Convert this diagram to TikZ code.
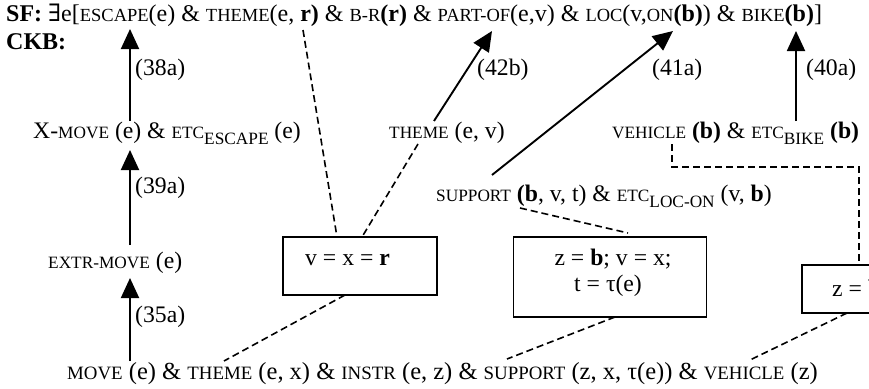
\documentclass[tikz,border=0pt]{standalone}
\usepackage{fontspec}
\setmainfont{Liberation Serif}
\newfontfamily\djv{DejaVu Serif}
\usepackage{relsize}
\usetikzlibrary{arrows.meta}
\newcommand\smc[1]{\textscale{.77}{#1}}
\newcommand\sbs[1]{\raisebox{-6pt}{\textscale{.75}{#1}}}
\begin{document}
\begin{tikzpicture}[x=1pt,y=-1pt,
  txt/.style={anchor=base west, inner sep=0pt, font=\fontsize{23.7}{28}\selectfont},
  bigtxt/.style={anchor=base west, inner sep=0pt, font=\fontsize{24.5}{28}\selectfont},
  sftxt/.style={anchor=base west, inner sep=0pt, font=\fontsize{24}{28}\selectfont},
  lbl/.style={anchor=west, inner sep=0pt, font=\fontsize{23.7}{28}\selectfont},
  inf/.style={line width=1.9pt, -{Triangle[length=20pt,width=18pt]}},
  eq/.style={line width=1.6pt, dash pattern=on 7pt off 4pt},
  frame/.style={draw, line width=1.8pt, inner sep=0pt}]
\useasboundingbox (0,0) rectangle (869,388);
\clip (0,0) rectangle (869,388);
% texts
\node[sftxt] (sf) at (6,21) {\textbf{SF:} {\djv ∃}e[\smc{ESCAPE}(e) \& \smc{THEME}(e, \textbf{r)} \& \smc{B-R}\textbf{(r)} \& \smc{PART-OF}(e,v) \& \smc{LOC}(v,\smc{ON}\textbf{(b)}) \& \smc{BIKE}\textbf{(b)}]};
\node[sftxt] (ckb) at (6,49) {\textbf{CKB:}};
\node[txt] (xmove) at (33,138) {X-\smc{MOVE} (e) \& \smc{ETC}\sbs{ESCAPE} (e)};
\node[txt] (themev) at (389,138) {\smc{THEME} (e, v)};
\node[txt] (vehb) at (612,138) {\smc{VEHICLE} \textbf{(b)} \& \smc{ETC}\sbs{BIKE} \textbf{(b)}};
\node[txt] (supp) at (436,201) {\smc{SUPPORT} \textbf{(b}, v, t) \& \smc{ETC}\sbs{LOC-ON} (v, \textbf{b})};
\node[txt] (extr) at (48,268) {\smc{EXTR-MOVE} (e)};
\node[bigtxt] (move) at (67,379) {\smc{MOVE} (e) \& \smc{THEME} (e, x) \& \smc{INSTR} (e, z) \& \smc{SUPPORT} (z, x, τ(e)) \& \smc{VEHICLE} (z)};
% boxes
\node[frame, minimum width=154pt, minimum height=58pt] (b1) at (360,266) {};
\node[txt] (b1t) at (305,265) {v = x = \textbf{r}};
\node[frame, minimum width=193pt, minimum height=80pt] (b2) at (610,277) {};
\node[txt, anchor=base] (b2t) at (613,265) {z = \textbf{b}; v = x;};
\node[txt, anchor=base] (b2u) at (608,291) {t = τ(e)};
\node[frame, minimum width=120pt, minimum height=48pt] (b3) at (862,289) {};
\node[txt] (b3t) at (832,296) {z = \textbf{b}};
% endpoints
\coordinate (t1) at (130,29);  \coordinate (s1) at (130,121);
\coordinate (t2) at (130,150); \coordinate (s2) at (130,245);
\coordinate (t3) at (130,278); \coordinate (s3) at (130,361);
\coordinate (t4) at (492,31);  \coordinate (s4) at (434,121);
\coordinate (t5) at (673,31);  \coordinate (s5) at (492,175);
\coordinate (t6) at (796,31);  \coordinate (s6) at (796,121);
\draw[inf] (s1) -- (t1);
\draw[inf] (s2) -- (t2);
\draw[inf] (s3) -- (t3);
\draw[inf] (s4) -- (t4);
\draw[inf] (s5) -- (t5);
\draw[inf] (s6) -- (t6);
\node[lbl] (l38) at (135,70) {(38a)};
\node[lbl] (l39) at (135,188) {(39a)};
\node[lbl] (l35) at (135,317) {(35a)};
\node[lbl] (l42) at (477,70) {(42b)};
\node[lbl] (l41) at (652,70) {(41a)};
\node[lbl] (l40) at (806,70) {(40a)};
% dashed
\coordinate (d1a) at (303,30); \coordinate (d1b) at (337,237);
\coordinate (d2a) at (418,144); \coordinate (d2b) at (362,237);
\coordinate (d3a) at (345,295); \coordinate (d3b) at (224,361);
\coordinate (d4a) at (520,208); \coordinate (d4b) at (628,233);
\coordinate (d5a) at (615,317); \coordinate (d5b) at (507,359);
\coordinate (d6a) at (672,144); \coordinate (d6b) at (672,167);
\coordinate (d6c) at (859,167); \coordinate (d6d) at (859,265);
\coordinate (d7a) at (847,313); \coordinate (d7b) at (750,360);
\draw[eq] (d1a) -- (d1b);
\draw[eq] (d2a) -- (d2b);
\draw[eq] (d3a) -- (d3b);
\draw[eq] (d4a) -- (d4b);
\draw[eq] (d5a) -- (d5b);
\draw[eq] (d6a) -- (d6b) -- (d6c) -- (d6d);
\draw[eq] (d7a) -- (d7b);
\end{tikzpicture}
\end{document}
